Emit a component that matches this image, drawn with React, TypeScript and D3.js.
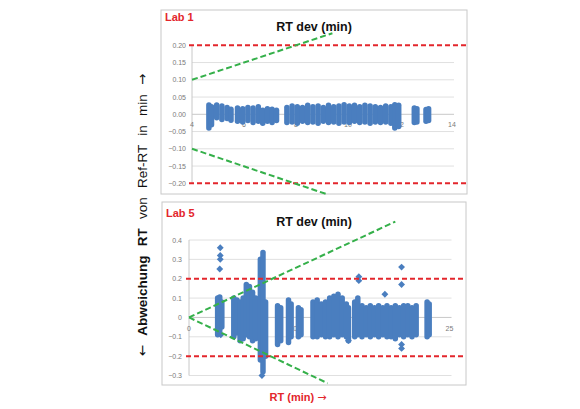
import React from "react";
import * as d3 from "d3";

// -- DATA --
// Lab 1: point clouds as [RT, lowest dev, highest dev]
const lab1Columns: [number, number, number][] = [
  [4.65, -0.04, 0.027], [4.75, -0.03, 0.022],
  [4.95, -0.01, 0.027], [5.15, -0.015, 0.024], [5.35, -0.012, 0.02], [5.5, -0.017, 0.015],
  [5.75, -0.02, 0.018], [5.95, -0.022, 0.016], [6.15, -0.018, 0.02], [6.35, -0.024, 0.018], [6.55, -0.02, 0.022],
  [6.72, -0.026, 0.012], [6.9, -0.02, 0.016], [7.08, -0.024, 0.015], [7.25, -0.018, 0.012],
  [7.65, -0.024, 0.02], [7.85, -0.022, 0.024], [8.05, -0.026, 0.022], [8.25, -0.02, 0.02],
  [8.45, -0.024, 0.026], [8.65, -0.022, 0.022], [8.85, -0.026, 0.024], [9.05, -0.02, 0.02],
  [9.25, -0.024, 0.026], [9.45, -0.022, 0.022], [9.65, -0.026, 0.024], [9.85, -0.022, 0.028],
  [10.05, -0.024, 0.024], [10.25, -0.02, 0.026], [10.45, -0.024, 0.022], [10.65, -0.022, 0.026],
  [10.85, -0.026, 0.024], [11.05, -0.022, 0.022], [11.25, -0.024, 0.02], [11.45, -0.022, 0.024],
  [11.65, -0.026, 0.022], [11.8, -0.04, 0.028], [11.95, -0.035, 0.026],
  [12.55, -0.024, 0.018], [12.65, -0.022, 0.016], [13.0, -0.02, 0.014], [13.1, -0.018, 0.016],
];
const lab1Points: [number, number][] = [];

// Lab 5
const lab5Columns: [number, number, number][] = [
  [2.75, -0.09, 0.1], [2.95, -0.07, 0.105], [3.15, -0.05, 0.08],
  [4.3, -0.1, 0.1], [4.6, -0.08, 0.09], [4.9, -0.12, 0.08], [5.2, -0.11, 0.1],
  [5.5, -0.09, 0.17], [5.8, -0.1, 0.16], [6.1, -0.12, 0.13], [6.4, -0.11, 0.1],
  [6.85, -0.22, 0.3], [7.1, -0.28, 0.335], [7.35, -0.2, 0.08],
  [8.5, -0.14, 0.06], [8.8, -0.12, 0.05],
  [9.55, -0.13, 0.09], [9.8, -0.1, 0.07], [10.5, -0.1, 0.05], [10.75, -0.09, 0.04],
  [11.9, -0.1, 0.08], [12.3, -0.1, 0.09], [12.7, -0.09, 0.07], [13.1, -0.1, 0.08],
  [13.5, -0.1, 0.1], [13.9, -0.09, 0.11], [14.3, -0.1, 0.12], [14.7, -0.09, 0.1],
  [15.1, -0.1, 0.07], [15.3, -0.12, 0.05],
  [15.9, -0.1, 0.08], [16.2, -0.09, 0.1], [16.6, -0.1, 0.06], [17.0, -0.09, 0.05],
  [17.4, -0.1, 0.06], [17.8, -0.09, 0.05], [18.2, -0.1, 0.06], [18.6, -0.09, 0.05],
  [19.0, -0.1, 0.06], [19.4, -0.1, 0.05], [19.8, -0.11, 0.06], [20.2, -0.09, 0.05],
  [20.6, -0.1, 0.06], [21.0, -0.09, 0.06], [21.4, -0.1, 0.05], [21.8, -0.09, 0.06],
  [22.85, -0.1, 0.08], [23.05, -0.09, 0.07],
];
const lab5Points: [number, number][] = [
  [3.0, 0.36], [3.0, 0.32], [3.0, 0.3], [2.95, 0.25], [3.05, -0.09],
  [7.0, -0.3], [16.3, 0.21], [16.3, 0.19], [18.8, 0.12],
  [20.4, 0.26], [20.4, 0.17], [20.4, -0.14], [20.4, -0.16], [15.3, -0.12],
];

// tolerance limits and growing tolerance cones
const limits = [0.2, -0.2];
const lab1Cone: [number, number][][] = [
  [[4, 0.1], [9.4, 0.235]],
  [[4, -0.1], [9.2, -0.232]],
];
const lab5Cone: [number, number][][] = [
  [[0, 0], [19.8, 0.495]],
  [[0, 0], [13.3, -0.34]],
];

const lab1YTicks = [0.2, 0.15, 0.1, 0.05, 0, -0.05, -0.1, -0.15, -0.2];
const lab1XTicks = [4, 6, 8, 10, 12, 14];
const lab5YTicks = [0.4, 0.3, 0.2, 0.1, 0, -0.1, -0.2, -0.3];
const lab5XTicks = [0, 5, 10, 15, 20, 25];

const BLUE = "#4a7ebf";
const RED = "#e3262c";
const GREEN = "#35b04a";
const FONT = "'Liberation Sans', Arial, sans-serif";
const ARROW_FONT = "'DejaVu Sans', sans-serif";

type PanelProps = {
  lab: string;
  box: { x: number; y: number; w: number; h: number };
  xDomain: [number, number];
  xRange: [number, number];
  yDomain: [number, number];
  yRange: [number, number];
  xTicks: number[];
  yTicks: number[];
  yFmt: (v: number) => string;
  columns: [number, number, number][];
  points: [number, number][];
  cone: [number, number][][];
  labY: number;
  titleY: number;
  yLabelX: number;
  xLabelY: number;
};

const Panel = (p: PanelProps) => {
  const x = d3.scaleLinear().domain(p.xDomain).range(p.xRange);
  const y = d3.scaleLinear().domain(p.yDomain).range(p.yRange);
  const line = d3.line<[number, number]>().x((d) => x(d[0])).y((d) => y(d[1]));
  const marker = d3.symbol(d3.symbolDiamond2, 30)();
  return (
    <g>
      <rect x={p.box.x} y={p.box.y} width={p.box.w} height={p.box.h} fill="#fff" stroke="#c8c8c8" />
      {/* grid */}
      {p.yTicks
        .filter((t) => t !== 0 && !limits.includes(t))
        .map((t) => (
          <line key={t} x1={x(p.xDomain[0])} x2={x(p.xDomain[1]) + 2} y1={y(t)} y2={y(t)} stroke="#e0e0e0" />
        ))}
      <line x1={x(p.xDomain[0])} x2={x(p.xDomain[0])} y1={y(p.yDomain[1])} y2={y(p.yDomain[0])} stroke="#c8c8c8" />
      <line x1={x(p.xDomain[0])} x2={x(p.xDomain[1]) + 2} y1={y(0)} y2={y(0)} stroke="#c8c8c8" />
      {/* tick labels */}
      {p.yTicks.map((t) => (
        <text key={t} x={p.yLabelX} y={y(t) + 2.5} fontSize={7} fill="#7a7a7a" textAnchor="end" fontFamily={FONT}>
          {p.yFmt(t)}
        </text>
      ))}
      {p.xTicks.map((t) => (
        <text key={t} x={x(t)} y={p.xLabelY} fontSize={7} fill="#7a7a7a" textAnchor="middle" fontFamily={FONT}>
          {t}
        </text>
      ))}
      {/* data */}
      {p.columns.map((c, i) => (
        <line key={i} x1={x(c[0])} x2={x(c[0])} y1={y(c[1])} y2={y(c[2])} stroke={BLUE} strokeWidth={5.5} strokeLinecap="round" />
      ))}
      {p.points.map((d, i) => (
        <path key={i} d={marker!} transform={`translate(${x(d[0])},${y(d[1])})`} fill={BLUE} />
      ))}
      {/* limits */}
      {limits.map((l) => (
        <line key={l} x1={x(p.xDomain[0]) - 3} x2={p.box.x + p.box.w - 1} y1={y(l)} y2={y(l)} stroke={RED} strokeWidth={2} strokeDasharray="5,3" />
      ))}
      {p.cone.map((seg, i) => (
        <path key={i} d={line(seg)!} fill="none" stroke={GREEN} strokeWidth={2} strokeDasharray="6,3" />
      ))}
      <text x={p.box.x + 4} y={p.labY} fontSize={11} fontWeight="bold" fill={RED} fontFamily={FONT}>
        {p.lab}
      </text>
      <text x={314} y={p.titleY} fontSize={12.5} fontWeight="bold" fill="#111" textAnchor="middle" fontFamily={FONT}>
        RT dev (min)
      </text>
    </g>
  );
};

export default function App() {
  return (
    <svg width={580} height={409} style={{ position: "absolute", left: 0, top: 0, background: "#fff" }}>
      <Panel
        lab="Lab 1"
        box={{ x: 161, y: 10, w: 306, h: 184 }}
        xDomain={[4, 14]}
        xRange={[192, 452]}
        yDomain={[-0.2, 0.2]}
        yRange={[183.3, 45.3]}
        xTicks={lab1XTicks}
        yTicks={lab1YTicks}
        yFmt={d3.format(".2f")}
        columns={lab1Columns}
        points={lab1Points}
        cone={lab1Cone}
        labY={21}
        titleY={31}
        yLabelX={186}
        xLabelY={127}
      />
      <Panel
        lab="Lab 5"
        box={{ x: 162, y: 202, w: 304, h: 183 }}
        xDomain={[0, 25]}
        xRange={[189, 449.5]}
        yDomain={[-0.3, 0.4]}
        yRange={[375.5, 240]}
        xTicks={lab5XTicks}
        yTicks={lab5YTicks}
        yFmt={(v) => (v === 0 ? "0" : d3.format(".1f")(v))}
        columns={lab5Columns}
        points={lab5Points}
        cone={lab5Cone}
        labY={217}
        titleY={226}
        yLabelX={182}
        xLabelY={331}
      />
      <text
        transform="translate(147,215) rotate(-90)"
        textAnchor="middle"
        fontSize={13.5}
        fontFamily={FONT}
        fill="#111"
        wordSpacing={5.5}
      >
        <tspan fontFamily={ARROW_FONT}>←</tspan> <tspan fontWeight="bold">Abweichung RT</tspan> von Ref-RT in min{" "}
        <tspan fontFamily={ARROW_FONT}>→</tspan>
      </text>
      <text x={298} y={401} textAnchor="middle" fontSize={11} fontWeight="bold" fill={RED} fontFamily={FONT}>
        RT (min) <tspan fontFamily={ARROW_FONT} fontWeight="normal">→</tspan>
      </text>
    </svg>
  );
}
